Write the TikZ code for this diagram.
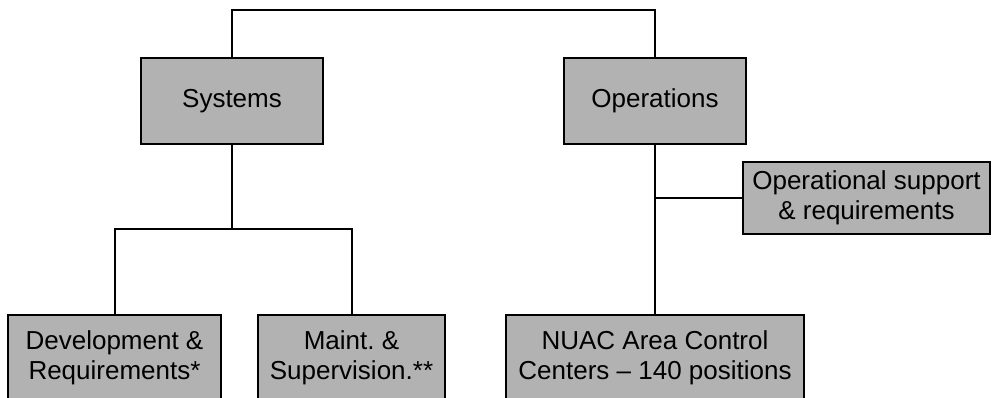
\documentclass[tikz,border=0pt]{standalone}
\usepackage{fontspec}
\setmainfont{Liberation Sans}
\frenchspacing
\begin{document}
\begin{tikzpicture}[x=1pt,y=-1pt,
  unit/.style={draw=black, line width=2pt, fill=black!30, inner sep=0pt,
    align=center, font=\fontsize{26}{30}\selectfont, text=black},
  link/.style={draw=black, line width=2pt}]
\useasboundingbox (0,0) rectangle (992,397);

% departments
\node[unit, minimum width=182pt, minimum height=86pt] (sys) at (232,101) {Systems};
\node[unit, minimum width=182pt, minimum height=86pt] (ops) at (655,101) {Operations};
\node[unit, minimum width=247pt, minimum height=72pt] (opsup) at (866.5,198) {Operational support\\\& requirements};

% units along the bottom edge
\node[unit, minimum width=213pt, minimum height=86pt] (dev) at (114.5,358) {Development \&\\Requirements*};
\node[unit, minimum width=187pt, minimum height=86pt] (maint) at (351.5,358) {Maint. \&\\Supervision.**};
\node[unit, minimum width=298pt, minimum height=86pt] (nuac) at (655,358) {NUAC Area Control\\Centers -- 140 positions};

% connectors
\coordinate (topbar) at (443,10);
\coordinate (sysbar) at (232,229);
\draw[link] (sys.north) |- (topbar) -| (ops.north);
\draw[link] (sys.south) -- (sysbar);
\draw[link] (dev.north) |- (sysbar) -| (maint.north);
\draw[link] (ops.south) -- (nuac.north);
\draw[link] (opsup.west) -- (opsup.west -| ops.south);
\end{tikzpicture}
\end{document}
